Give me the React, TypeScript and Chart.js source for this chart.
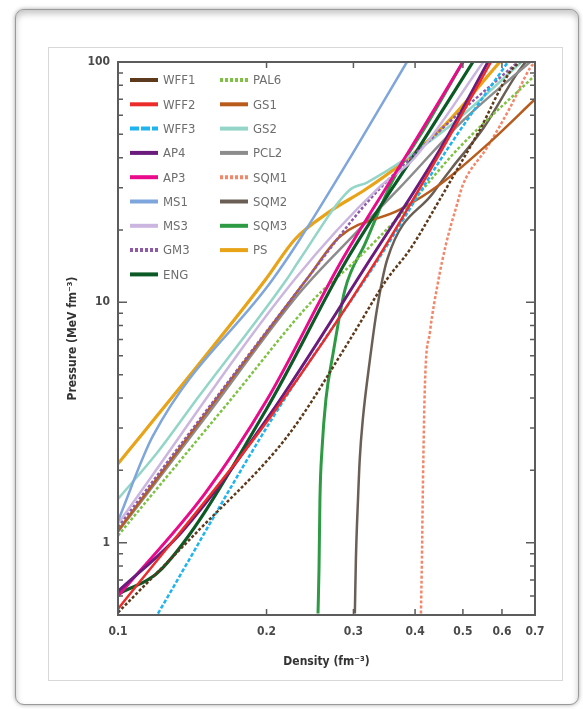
import React, { useEffect, useRef } from "react";
import { Chart, registerables } from "chart.js";

Chart.register(...registerables);

// ---- data (density fm^-3, pressure MeV fm^-3) ----
const wff1Density = [0.1, 0.1466, 0.208, 0.2337, 0.2952, 0.351, 0.3906, 0.449, 0.4863, 0.541, 0.6226, 0.652];
const wff1Pressure = [0.512, 1.14, 2.39, 3.27, 7.0, 12.5, 16.6, 26.8, 35.6, 52.2, 90.9, 100];
const wff2Density = [0.1, 0.205, 0.335, 0.45, 0.57];
const wff2Pressure = [0.53, 3.4, 15.1, 42, 100];
const wff3Density = [0.1205, 0.2051, 0.337, 0.464, 0.617];
const wff3Pressure = [0.507, 3.27, 15.1, 43.1, 100];
const ap4Density = [0.1, 0.1348, 0.203, 0.3245, 0.449, 0.562];
const ap4Pressure = [0.627, 1.11, 3.4, 15.1, 43.1, 100];
const ap3Density = [0.1, 0.15, 0.2, 0.285, 0.39, 0.5];
const ap3Pressure = [0.6, 1.6, 3.9, 15.1, 43, 100];
const ms1Density = [0.1, 0.1177, 0.2061, 0.2337, 0.302, 0.385];
const ms1Pressure = [1.23, 2.78, 12.5, 18.3, 43.1, 100];
const ms3Density = [0.1, 0.2284, 0.3393, 0.396, 0.55];
const ms3Pressure = [1.2, 12.5, 30.3, 39.2, 100];
const gm3Density = [0.1, 0.2414, 0.3196, 0.45, 0.6466];
const gm3Pressure = [1.16, 12.5, 26.0, 52, 100];
const engDensity = [0.1, 0.1228, 0.2, 0.2913, 0.4045, 0.524];
const engPressure = [0.61, 0.78, 3.6, 15.1, 43.1, 100];
const pal6Density = [0.1, 0.1686, 0.2483, 0.305, 0.38, 0.486, 0.7];
const pal6Pressure = [1.07, 3.9, 10.2, 15.1, 24, 43, 88];
const gs1Density = [0.1, 0.2414, 0.2818, 0.3725, 0.449, 0.56, 0.7];
const gs1Pressure = [1.12, 12.5, 18.8, 24.3, 30.9, 45.3, 70];
const gs2Density = [0.1, 0.1205, 0.1445, 0.22, 0.2337, 0.2951, 0.3196, 0.46, 0.658];
const gs2Pressure = [1.52, 2.39, 3.96, 12.5, 15.1, 29.4, 31.5, 52.2, 100];
const pcl2Density = [0.1, 0.15, 0.2337, 0.3, 0.3725, 0.5, 0.684];
const pcl2Pressure = [1.11, 3.3, 11.0, 19, 30, 57, 100];
const sqm1Density = [0.4111, 0.413, 0.415, 0.419, 0.4287, 0.4451, 0.4619, 0.4863, 0.5003, 0.5595, 0.6226, 0.684, 0.7];
const sqm1Pressure = [0.507, 0.858, 1.79, 4.66, 7.51, 12.1, 17.4, 25.5, 30.9, 44.0, 64.4, 94.4, 100];
const sqm2Density = [0.302, 0.3035, 0.3065, 0.309, 0.3135, 0.3241, 0.3348, 0.3513, 0.4354, 0.4773, 0.55, 0.64, 0.67];
const sqm2Pressure = [0.507, 0.858, 1.52, 2.23, 3.27, 5.8, 9.35, 15.1, 28.6, 36.7, 53, 88, 100];
const sqm3Density = [0.2543, 0.2555, 0.2566, 0.2591, 0.2639, 0.2727, 0.2884, 0.3166, 0.36, 0.4227, 0.5];
const sqm3Pressure = [0.507, 0.78, 1.52, 2.45, 3.96, 6.09, 11.3, 17.5, 32, 55, 100];
const psDensity = [0.1, 0.1466, 0.1995, 0.2284, 0.2689, 0.3166, 0.3725, 0.4598, 0.594];
const psPressure = [2.13, 5.6, 12.5, 18.3, 23.9, 29.4, 37.4, 54.8, 100];

const xTickValues = [0.1, 0.2, 0.3, 0.4, 0.5, 0.6, 0.7];
const yTickValues = [1, 10, 100];

type Series = {
  name: string;
  d: number[];
  p: number[];
  color: string;
  dash: number[];
  legendDash: number[];
  width: number;
};

const series: Series[] = [
  { name: "WFF1", d: wff1Density, p: wff1Pressure, color: "#5e3a1c", dash: [3, 2], legendDash: [], width: 2.5 },
  { name: "WFF2", d: wff2Density, p: wff2Pressure, color: "#ec2b2b", dash: [], legendDash: [], width: 2.5 },
  { name: "WFF3", d: wff3Density, p: wff3Pressure, color: "#1db4ef", dash: [4, 2], legendDash: [9, 2], width: 2.5 },
  { name: "AP4", d: ap4Density, p: ap4Pressure, color: "#6a1b7c", dash: [], legendDash: [], width: 3 },
  { name: "AP3", d: ap3Density, p: ap3Pressure, color: "#ea0a8c", dash: [], legendDash: [], width: 3 },
  { name: "MS1", d: ms1Density, p: ms1Pressure, color: "#7ea6dc", dash: [], legendDash: [], width: 2.5 },
  { name: "MS3", d: ms3Density, p: ms3Pressure, color: "#cbb6df", dash: [], legendDash: [], width: 2.5 },
  { name: "GM3", d: gm3Density, p: gm3Pressure, color: "#8e5ba8", dash: [3, 2], legendDash: [3, 2], width: 2.5 },
  { name: "ENG", d: engDensity, p: engPressure, color: "#0b5a25", dash: [], legendDash: [], width: 3.2 },
  { name: "PAL6", d: pal6Density, p: pal6Pressure, color: "#7dc242", dash: [3, 2], legendDash: [3, 2], width: 2.5 },
  { name: "GS1", d: gs1Density, p: gs1Pressure, color: "#b85c1e", dash: [], legendDash: [], width: 2.5 },
  { name: "GS2", d: gs2Density, p: gs2Pressure, color: "#93d6c7", dash: [], legendDash: [], width: 2.5 },
  { name: "PCL2", d: pcl2Density, p: pcl2Pressure, color: "#8c8c8c", dash: [], legendDash: [], width: 2.5 },
  { name: "SQM1", d: sqm1Density, p: sqm1Pressure, color: "#f4876a", dash: [3, 2], legendDash: [3, 2], width: 2.5 },
  { name: "SQM2", d: sqm2Density, p: sqm2Pressure, color: "#6b5e55", dash: [], legendDash: [], width: 2.5 },
  { name: "SQM3", d: sqm3Density, p: sqm3Pressure, color: "#2e9a44", dash: [], legendDash: [], width: 3 },
  { name: "PS", d: psDensity, p: psPressure, color: "#e8a317", dash: [], legendDash: [], width: 3.2 },
];

const LEGEND_COL1 = 9;

const decorPlugin = {
  id: "decor",
  afterDatasetsDraw(chart: any) {
    const { ctx, chartArea: a, scales } = chart;
    const xs = scales.x;
    const ys = scales.y;
    ctx.save();

    // frame
    ctx.strokeStyle = "#5c5c5c";
    ctx.lineWidth = 2;
    ctx.strokeRect(a.left, a.top, a.right - a.left, a.bottom - a.top);

    // y tick marks (inward, both sides)
    ctx.lineWidth = 1.5;
    for (let e = -1; e <= 1; e++) {
      for (let m = 1; m <= 9; m++) {
        const v = m * Math.pow(10, e);
        if (v < 0.5 || v > 100) continue;
        const py = ys.getPixelForValue(v);
        const len = m === 1 ? 9 : 5;
        ctx.beginPath();
        ctx.moveTo(a.left, py);
        ctx.lineTo(a.left + len, py);
        ctx.moveTo(a.right, py);
        ctx.lineTo(a.right - len, py);
        ctx.stroke();
      }
    }
    const py100 = ys.getPixelForValue(100);
    ctx.beginPath();
    ctx.moveTo(a.left, py100);
    ctx.lineTo(a.left + 9, py100);
    ctx.stroke();

    // x tick marks (inward, top and bottom)
    for (const v of xTickValues) {
      const px = xs.getPixelForValue(v);
      ctx.beginPath();
      ctx.moveTo(px, a.bottom);
      ctx.lineTo(px, a.bottom - 6);
      ctx.moveTo(px, a.top);
      ctx.lineTo(px, a.top + 6);
      ctx.stroke();
    }

    // tick labels
    ctx.fillStyle = "#4a4a4a";
    ctx.font = "bold 12px 'Liberation Sans Narrow', 'DejaVu Sans Condensed', sans-serif";
    ctx.textAlign = "right";
    ctx.textBaseline = "middle";
    for (const v of yTickValues) {
      ctx.fillText(String(v), a.left - 8, ys.getPixelForValue(v));
    }
    ctx.textAlign = "center";
    ctx.textBaseline = "middle";
    for (const v of xTickValues) {
      ctx.fillText(String(v), xs.getPixelForValue(v), a.bottom + 17);
    }

    // axis titles
    ctx.fillStyle = "#333";
    ctx.font = "bold 12px 'Liberation Sans Narrow', 'DejaVu Sans Condensed', sans-serif";
    ctx.fillText("Density (fm\u207B\u00B3)", (a.left + a.right) / 2 - 0, a.bottom + 47);
    ctx.save();
    ctx.translate(a.left - 45, (a.top + a.bottom) / 2);
    ctx.rotate(-Math.PI / 2);
    ctx.fillText("Pressure (MeV fm\u207B\u00B3)", 0, 0);
    ctx.restore();

    // legend
    ctx.font = "13px 'Liberation Sans Narrow', 'DejaVu Sans Condensed', sans-serif";
    ctx.textAlign = "left";
    ctx.textBaseline = "middle";
    series.forEach((s, i) => {
      const col = i < LEGEND_COL1 ? 0 : 1;
      const row = col === 0 ? i : i - LEGEND_COL1;
      const x0 = a.left + 12 + col * 90;
      const yy = a.top + 18 + row * 24.3;
      ctx.strokeStyle = s.color;
      ctx.lineWidth = 4;
      ctx.setLineDash(s.legendDash);
      ctx.beginPath();
      ctx.moveTo(x0, yy);
      ctx.lineTo(x0 + 28, yy);
      ctx.stroke();
      ctx.setLineDash([]);
      ctx.fillStyle = "#6e6e6e";
      ctx.fillText(s.name, x0 + 33, yy + 1);
    });

    ctx.restore();
  },
};

export default function App() {
  const canvasRef = useRef<HTMLCanvasElement | null>(null);

  useEffect(() => {
    if (!canvasRef.current) return;
    const chart = new Chart(canvasRef.current, {
      type: "line",
      data: {
        datasets: series.map((s) => ({
          label: s.name,
          data: s.d.map((dv, i) => ({ x: dv, y: s.p[i] })),
          borderColor: s.color,
          backgroundColor: s.color,
          borderWidth: s.width,
          borderDash: s.dash,
          pointRadius: 0,
          fill: false,
          cubicInterpolationMode: "monotone" as const,
        })),
      },
      options: {
        animation: false,
        responsive: false,
        layout: { padding: { left: 118, top: 62, right: 48, bottom: 94 } },
        plugins: { legend: { display: false }, tooltip: { enabled: false } },
        scales: {
          x: { type: "logarithmic", min: 0.1, max: 0.7, display: false },
          y: { type: "logarithmic", min: 0.5, max: 100, display: false },
        },
      },
      plugins: [decorPlugin],
    });
    return () => chart.destroy();
  }, []);

  return (
    <div style={{ position: "absolute", left: 0, top: 0, width: 583, height: 709, background: "#fff", overflow: "hidden" }}>
      <div
        style={{
          position: "absolute",
          left: 15,
          top: 9,
          width: 562,
          height: 694,
          border: "1px solid #9a9a9a",
          borderRadius: 9,
          boxShadow: "inset 0 4px 6px rgba(0,0,0,0.22), 0 0 4px rgba(0,0,0,0.35)",
          background: "#fff",
        }}
      />
      <div
        style={{
          position: "absolute",
          left: 48,
          top: 47,
          width: 513,
          height: 632,
          border: "1px solid #d8d8d8",
          background: "#fff",
        }}
      />
      <canvas
        ref={canvasRef}
        width={583}
        height={709}
        style={{ position: "absolute", left: 0, top: 0, width: 583, height: 709 }}
      />
    </div>
  );
}
